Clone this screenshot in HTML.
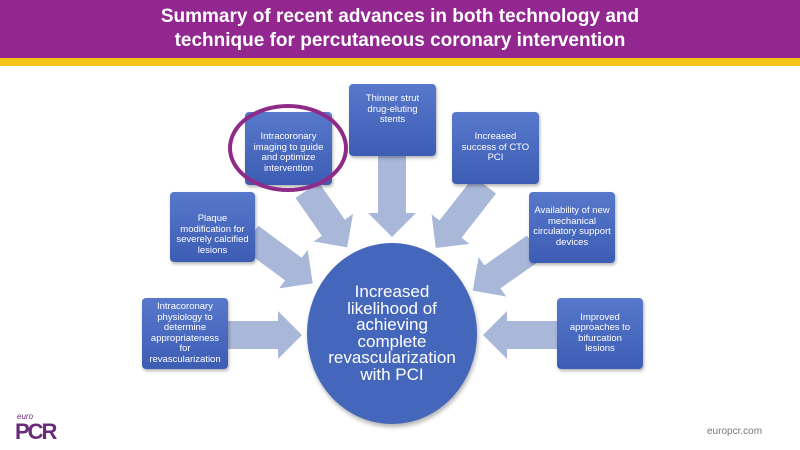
<!DOCTYPE html>
<html><head><meta charset="utf-8"><style>
body{margin:0;width:800px;height:450px;overflow:hidden;background:#fff;font-family:"Liberation Sans",sans-serif;position:relative}
.hdr{position:absolute;left:0;top:0;width:800px;height:58px;background:#92278f;color:#fff;text-align:center;font-size:19px;font-weight:bold;line-height:24px;padding-top:5px;box-sizing:border-box}
.yb{position:absolute;left:0;top:58px;width:800px;height:8px;background:#f5c518}
.box{position:absolute;background:linear-gradient(#5878cc,#3d5db4);border-radius:4px;color:#fff;font-size:9.5px;line-height:10.5px;text-align:center;display:flex;align-items:center;justify-content:center;box-shadow:1px 2px 3px rgba(0,0,0,.3);box-sizing:border-box;padding:2px 8px}
.circ{position:absolute;left:307px;top:243px;width:170px;height:181px;border-radius:50%;background:#4466bb;box-shadow:1px 3px 4px rgba(0,0,0,.3);color:#fff;font-size:17px;line-height:16.5px;text-align:center;display:flex;align-items:center;justify-content:center}
</style></head><body>
<div class="hdr">Summary of recent advances in both technology and<br>technique for percutaneous coronary intervention</div>
<div class="yb"></div>
<svg width="800" height="450" style="position:absolute;left:0;top:0">
<g fill="#a9b7d8">
<g transform="translate(307,190) rotate(55)"><polygon points="0,-14 46,-14 46,-24 70,0 46,24 46,14 0,14"/></g>
<g transform="translate(392,150) rotate(90)"><polygon points="0,-14 63,-14 63,-24 87,0 63,24 63,14 0,14"/></g>
<g transform="translate(485,185) rotate(128)"><polygon points="0,-14 56,-14 56,-24 80,0 56,24 56,14 0,14"/></g>
<g transform="translate(250,237) rotate(36.5)"><polygon points="0,-14 54,-14 54,-24 78,0 54,24 54,14 0,14"/></g>
<g transform="translate(535,247) rotate(145)"><polygon points="0,-14 52,-14 52,-24 76,0 52,24 52,14 0,14"/></g>
<g transform="translate(222,335) rotate(0)"><polygon points="0,-14 56,-14 56,-24 80,0 56,24 56,14 0,14"/></g>
<g transform="translate(563,335) rotate(180)"><polygon points="0,-14 56,-14 56,-24 80,0 56,24 56,14 0,14"/></g>
</g></svg>
<div class="box" style="left:245px;top:112px;width:87px;height:73px;align-items:flex-start;padding-top:20px">Intracoronary imaging to guide and optimize intervention</div>
<div class="box" style="left:349px;top:84px;width:87px;height:72px;align-items:flex-start;padding-top:10px;padding-left:12px;padding-right:12px">Thinner strut drug-eluting stents</div>
<div class="box" style="left:452px;top:112px;width:87px;height:72px;align-items:flex-start;padding-top:20px">Increased success of CTO PCI</div>
<div class="box" style="left:170px;top:192px;width:85px;height:70px;align-items:flex-start;padding-top:22px;padding-left:3px;padding-right:3px">Plaque modification for severely calcified lesions</div>
<div class="box" style="left:529px;top:192px;width:86px;height:71px;align-items:flex-start;padding-top:14px;padding-left:3px;padding-right:3px">Availability of new mechanical circulatory support devices</div>
<div class="box" style="left:142px;top:298px;width:86px;height:71px;padding-left:4px;padding-right:4px">Intracoronary physiology to determine appropriateness for revascularization</div>
<div class="box" style="left:557px;top:298px;width:86px;height:71px">Improved approaches to bifurcation lesions</div>
<div class="circ"><div>Increased<br>likelihood of<br>achieving<br>complete<br>revascularization<br>with PCI</div></div>
<svg width="800" height="450" style="position:absolute;left:0;top:0"><ellipse cx="288" cy="148" rx="58" ry="42" fill="none" stroke="#8e2a88" stroke-width="4"/></svg>
<div style="position:absolute;left:17px;top:412px;color:#6a2a7a;font-size:8px;font-style:italic">euro</div>
<div style="position:absolute;left:15px;top:419px;color:#6a2a7a;font-size:22px;font-weight:bold;letter-spacing:-2px">PCR</div>
<div style="position:absolute;left:707px;top:426px;color:#777;font-size:10px">europcr.com</div>
</body></html>
